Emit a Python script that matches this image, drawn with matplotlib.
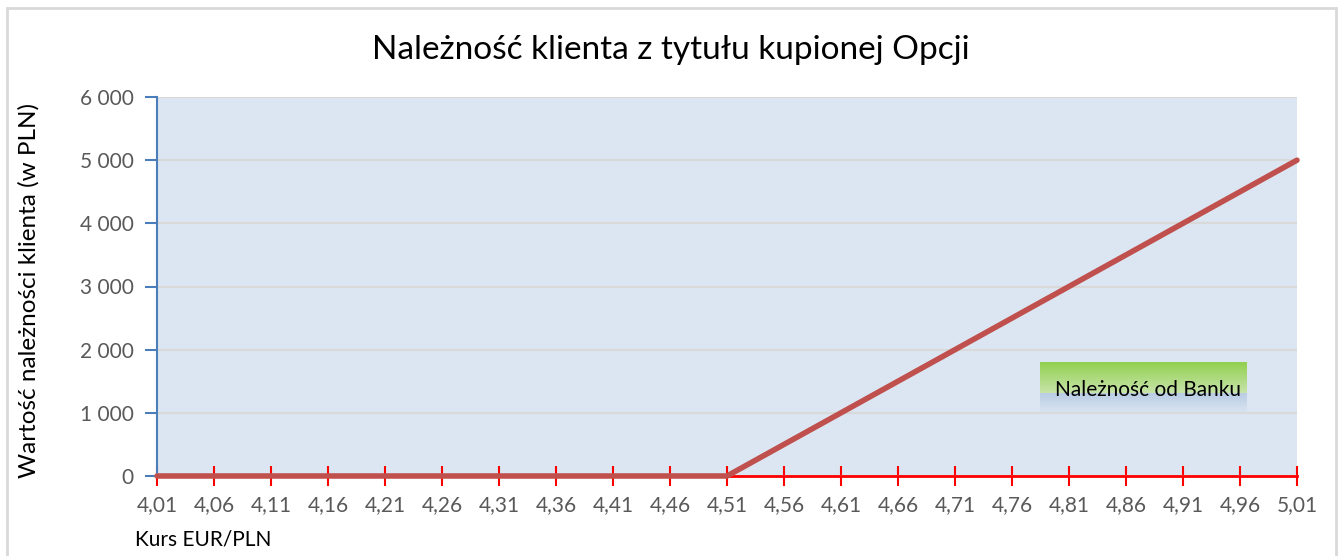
import matplotlib.pyplot as plt
import numpy as np
from matplotlib.patches import Rectangle
from matplotlib.ticker import FuncFormatter

# kurs EUR/PLN i naleznosc klienta
kurs = [4.01, 4.06, 4.11, 4.16, 4.21, 4.26, 4.31, 4.36, 4.41, 4.46, 4.51,
        4.56, 4.61, 4.66, 4.71, 4.76, 4.81, 4.86, 4.91, 4.96, 5.01]
naleznosc = [0, 0, 0, 0, 0, 0, 0, 0, 0, 0, 0,
             500, 1000, 1500, 2000, 2500, 3000, 3500, 4000, 4500, 5000]
kurs_labels = ["%.2f" % k for k in kurs]
kurs_labels = [s.replace(".", ",") for s in kurs_labels]
y_ticks = [0, 1000, 2000, 3000, 4000, 5000, 6000]

plt.rcParams['font.family'] = ['Lato', 'DejaVu Sans']

fig = plt.figure(figsize=(13.41, 5.56), dpi=100)
# ramka wykresu
fig.patches.append(Rectangle((7/1341, -0.1), 1329/1341, 1.1 - 8/556, transform=fig.transFigure,
                             fill=False, edgecolor='#D9D9D9', linewidth=2, zorder=0))

ax = fig.add_axes([157/1341, 1 - 476/556, 1140/1341, 379/556])
ax.set_facecolor('#DCE6F2')
ax.set_xlim(4.01, 5.01)
ax.set_ylim(0, 6000)
ax.set_yticks(y_ticks)
ax.yaxis.set_major_formatter(FuncFormatter(lambda v, p: "{:,.0f}".format(v).replace(",", " ")))
ax.set_xticks(kurs)
ax.set_xticklabels(kurs_labels)
ax.grid(axis='y', color='#D9D9D9', linewidth=1.5)
ax.set_axisbelow(True)

for s in ['top', 'right']:
    ax.spines[s].set_visible(False)
ax.spines['left'].set_color('#4A7EBB')
ax.spines['left'].set_linewidth(1.5)
ax.spines['bottom'].set_color('#FF0000')
ax.spines['bottom'].set_linewidth(2)
ax.spines['bottom'].set_zorder(1)

ax.tick_params(axis='y', colors='#4A7EBB', length=9, width=1.5, labelcolor='#595959',
               labelsize=15, pad=8)
ax.tick_params(axis='x', colors='#FF0000', direction='inout', length=14, width=1.5,
               labelcolor='#595959', labelsize=15, pad=7)

ax.plot(kurs, naleznosc, color='#C0504D', linewidth=4, solid_capstyle='round',
        clip_on=False, zorder=3)

fig.text(0.5, 1 - 50/556, "Należność klienta z tytułu kupionej Opcji", ha='center',
         va='center', fontsize=24)
fig.text(18/1341, 1 - 290/556, "Wartość należności klienta (w PLN)", rotation=90,
         ha='left', va='center', fontsize=17.5)
fig.text(135/1341, 1 - 539/556, "Kurs EUR/PLN", ha='left', va='center', fontsize=15)

# pole z napisem
bx = fig.add_axes([1040/1341, 1 - 412/556, 207/1341, 50/556])
green = np.array([146, 208, 80]) / 255
light = np.array([200, 228, 170]) / 255
blue = np.array([184, 204, 228]) / 255
lightblue = np.array([215, 227, 240]) / 255
rows = []
for t in np.linspace(0, 1, 50):
    if t < 0.62:
        c = green + (light - green) * (t / 0.62)
    else:
        c = blue + (lightblue - blue) * ((t - 0.62) / 0.38)
    rows.append(c)
grad = np.array(rows)[:, None, :]
bx.imshow(grad, aspect='auto', extent=[0, 1, 0, 1])
bx.axis('off')
bx.text(0.52, 0.45, "Należność od Banku", ha='center', va='center', fontsize=15,
        transform=bx.transAxes)

fig.savefig('out.png', dpi=100)
